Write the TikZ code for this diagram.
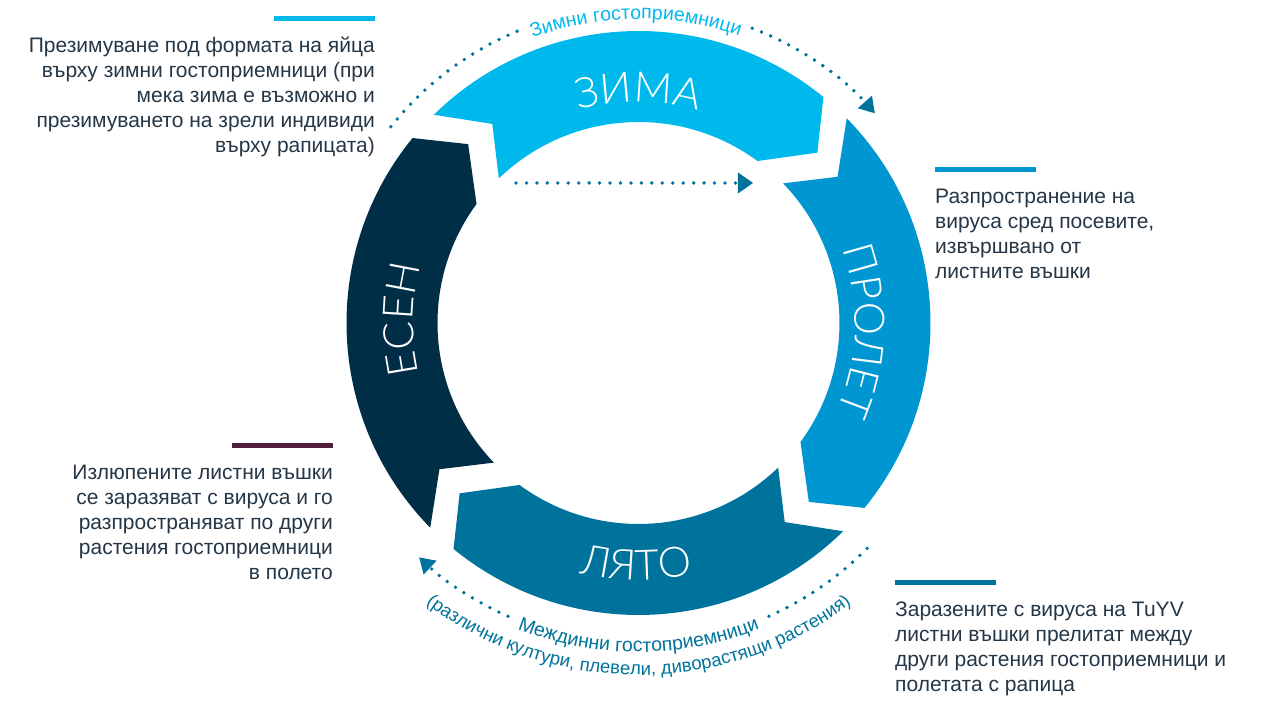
\documentclass[tikz,border=0pt]{standalone}
\usepackage{fontspec}
\setmainfont{Liberation Sans}
\newfontfamily\thinfont{Lato Light}
\usepackage{tikz}
\usetikzlibrary{math}
\usetikzlibrary{calc}
\usetikzlibrary{arrows.meta}
\usetikzlibrary{decorations.text}

\definecolor{winter}{RGB}{0,185,236}
\definecolor{spring}{RGB}{0,150,209}
\definecolor{summer}{RGB}{0,115,157}
\definecolor{autumn}{RGB}{0,46,71}
\definecolor{hatch}{RGB}{79,31,60}
\definecolor{notegray}{RGB}{37,55,70}

\newcommand\seasonfont{\thinfont\fontsize{42}{42}\selectfont}
\newcommand\arcfont{\fontsize{19.5}{19.5}\selectfont}
\newcommand\smallarcfont{\fontsize{18.5}{18.5}\selectfont}

\begin{document}
\begin{tikzpicture}[x=1pt, y=1pt,
  note/.style={font=\fontsize{21}{25}\selectfont, text=notegray, inner sep=0pt},
  bar/.style={line width=5.5pt},
  dots/.style={summer, line width=3.8pt, line cap=round, dash pattern=on 0pt off 10pt},
  tip/.style={-{Triangle[length=15pt, width=19pt, line width=0pt]}}]

  \tikzmath{
    \rout    = 292;   % outer radius of the ring
    \rin     = 201;   % inner radius of the ring
    \rtip    = 247;   % radius of the arrow points
    \tailout = 134.5; % angle where a season starts (outer edge)
    \tailin  = 134;   % angle where a season starts (inner edge)
    \tailtip = 126.3; % notch of the tail
    \headout = 50.7;  % angle where a season ends (outer edge)
    \headin  = 53.7;  % angle where a season ends (inner edge)
    \headtip = 43.6;  % point of the head
    \rtop    = 316;   % radius of the upper dotted arc
    \rbot    = 321;   % radius of the lower dotted arc
    \barlen  = 101;   % length of the coloured bars
    \barup   = 34;    % bar height above the first line of a note
    \lead    = 25;    % distance between two lines of a note
  }

  % canvas
  \fill[white] (-638.5, -378) rectangle (628.5, 323);
  \useasboundingbox (-638.5, -378) rectangle (628.5, 323);

  % Seasons, each one a bent arrow
  \fill[winter] (\tailout:\rout) arc[start angle=\tailout, end angle=\headout, radius=\rout]
    -- (\headtip:\rtip) -- (\headin:\rin) arc[start angle=\headin, end angle=\tailin, radius=\rin]
    -- (\tailtip:\rtip) -- cycle;
  \fill[spring, rotate=-90] (\tailout:\rout) arc[start angle=\tailout, end angle=\headout, radius=\rout]
    -- (\headtip:\rtip) -- (\headin:\rin) arc[start angle=\headin, end angle=\tailin, radius=\rin]
    -- (\tailtip:\rtip) -- cycle;
  \fill[summer, rotate=-180] (\tailout:\rout) arc[start angle=\tailout, end angle=\headout, radius=\rout]
    -- (\headtip:\rtip) -- (\headin:\rin) arc[start angle=\headin, end angle=\tailin, radius=\rin]
    -- (\tailtip:\rtip) -- cycle;
  \fill[autumn, rotate=-270] (\tailout:\rout) arc[start angle=\tailout, end angle=\headout, radius=\rout]
    -- (\headtip:\rtip) -- (\headin:\rin) arc[start angle=\headin, end angle=\tailin, radius=\rin]
    -- (\tailtip:\rtip) -- cycle;

  % Names of the seasons
  \path[decorate, decoration={text along path, text align=center, text color=white,
    text={|\seasonfont|ЗИМА}}] (130:221) arc[start angle=130, end angle=50, radius=221];
  \path[decorate, decoration={text along path, text align=center, text color=white,
    text={|\seasonfont|ПРОЛЕТ}}] (40:216.5) arc[start angle=40, end angle=-44, radius=216.5];
  \path[decorate, decoration={text along path, text align=center, text color=white,
    text={|\seasonfont|ЛЯТО}}] (-130.5:257) arc[start angle=-130.5, end angle=-50.5, radius=257];
  \path[decorate, decoration={text along path, text align=center, text color=white,
    text={|\seasonfont|ЕСЕН}}] (221:225.5) arc[start angle=221, end angle=137, radius=225.5];

  % Upper dotted arc, over winter
  \coordinate (topstart) at (141.6:\rtop);
  \coordinate (topresume) at (68.9:\rtop);
  \draw[dots] (topstart) arc[start angle=141.6, end angle=112.4, radius=\rtop];
  \draw[dots, tip] (topresume) arc[start angle=68.9, end angle=41.6, radius=\rtop];
  \path[decorate, decoration={text along path, text align=center, text color=winter,
    text={|\arcfont|Зимни гостоприемници}}] (130.5:304) arc[start angle=130.5, end angle=50.5, radius=304];

  % Lower dotted arc, under summer
  \coordinate (botstart) at (-44.6:\rbot);
  \coordinate (botresume) at (-114:\rbot);
  \draw[dots] (botstart) arc[start angle=-44.6, end angle=-67.2, radius=\rbot];
  \draw[dots, tip] (botresume) arc[start angle=-114, end angle=-133.1, radius=\rbot];
  \path[decorate, decoration={text along path, text align=center, text color=summer,
    text={|\arcfont|Междинни гостоприемници}}] (-135:329) arc[start angle=-135, end angle=-45, radius=329];
  \path[decorate, decoration={text along path, text align=center, text color=summer,
    text={|\smallarcfont|(различни култури, плевели, диворастящи растения)}}] (-135:352) arc[start angle=-135, end angle=-45, radius=352];

  % Shortcut inside the ring
  \coordinate (skipfrom) at (-122.5, 140);
  \coordinate (skipto) at (114.5, 140);
  \draw[dots, dash pattern=on 0pt off 10.45pt, -{Triangle[length=15pt, width=21pt, line width=0pt]}]
    (skipfrom) -- (skipto);

  % Notes with their bars (base = last line of a note)
  \node[note, anchor=base east, align=right] (notewinter) at (-263.5, 170.3)
    {Презимуване под формата на яйца\\върху зимни гостоприемници (при\\мека зима е възможно и\\презимуването на зрели индивиди\\върху рапицата)};
  \draw[bar, winter] ($(notewinter.base east)+(0,{\barup+4*\lead})$) -- ++(-\barlen,0);

  \node[note, anchor=base west, align=left] (notespring) at (296.5, 44.7)
    {Разпространение на\\вируса сред посевите,\\извършвано от\\листните въшки};
  \draw[bar, spring] ($(notespring.base west)+(0,{\barup+3*\lead})$) -- ++(\barlen,0);

  \node[note, anchor=base east, align=right] (notehatch) at (-305.5, -256.3)
    {Излюпените листни въшки\\се заразяват с вируса и го\\разпространяват по други\\растения гостоприемници\\в полето};
  \draw[bar, hatch] ($(notehatch.base east)+(0,{\barup+4*\lead})$) -- ++(-\barlen,0);

  \node[note, anchor=base west, align=left] (notesummer) at (256.5, -368.7)
    {Заразените с вируса на TuYV\\листни въшки прелитат между\\други растения гостоприемници и\\полетата с рапица};
  \draw[bar, summer] ($(notesummer.base west)+(0,{\barup+3*\lead})$) -- ++(\barlen,0);

\end{tikzpicture}
\end{document}
